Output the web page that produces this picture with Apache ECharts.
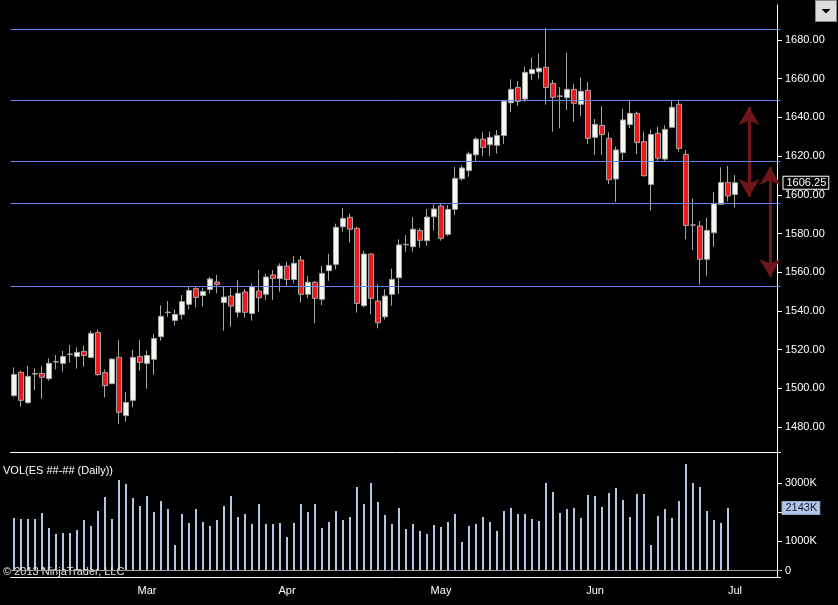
<!DOCTYPE html>
<html>
<head>
<meta charset="utf-8">
<title>ES daily</title>
<script src="https://cdn.jsdelivr.net/npm/echarts@6.0.0/dist/echarts.min.js"></script>
<style>
html,body{margin:0;padding:0;background:#000;}
#chart{width:838px;height:605px;}
</style>
</head>
<body>
<div id="chart"></div>
<script>
// session days on the chart, plus a few empty days on the right
var holidays = ['2013-02-18','2013-03-29','2013-05-27','2013-07-04'];
var firstDay = '2013-02-01';
var lastDay = '2013-07-10';
var monthNames = ['Jan','Feb','Mar','Apr','May','Jun','Jul','Aug','Sep','Oct','Nov','Dec'];

var opens = [1496.2,1508.3,1492.6,1507.4,1507.7,1505.0,1513.6,1512.9,1517.5,1516.4,1519.1,1516.0,1528.9,1508.1,1502.4,1516.0,1485.9,1493.8,1516.5,
  1512.9,1515.0,1526.7,1539.2,1535.1,1538.1,1543.4,1551.5,1548.0,1551.1,1554.9,1544.3,1547.7,1539.3,1549.8,1538.7,1550.3,1548.6,1558.6,1556.7,
  1563.2,1556.3,1566.3,1548.6,1554.8,1546.0,1560.8,1564.1,1583.5,1588.4,1582.7,1542.7,1569.4,1545.1,1537.0,1548.6,1557.2,1574.2,1573.2,1581.6,1576.3,1588.7,
  1594.2,1579.6,1592.5,1608.3,1612.5,1620.7,1628.8,1625.9,1625.6,1630.6,1647.6,1655.5,1649.5,1662.6,1663.6,1665.9,1657.6,1650.9,1650.2,1654.5,1646.8,1654.0,
  1629.7,1635.9,1629.2,1608.2,1621.8,1636.3,1642.1,1627.5,1605.4,1631.8,1618.5,1634.9,1646.8,1620.9,1584.4,1583.9,1566.7,1580.4,1595.1,1606.4,
  1600.2];
var closes = [1507.2,1493.8,1506.2,1507.6,1505.7,1512.9,1513.8,1516.5,1517.7,1518.6,1517.0,1528.4,1507.1,1501.4,1515.1,1487.6,1492.7,1516.0,1513.4,
  1517.0,1525.8,1537.2,1539.4,1538.2,1544.8,1550.6,1547.0,1550.0,1556.5,1553.7,1547.2,1542.5,1549.1,1539.3,1552.5,1546.8,1557.5,1556.7,1563.2,
  1556.3,1564.6,1548.6,1554.8,1546.5,1559.4,1563.6,1583.2,1587.8,1582.2,1543.9,1569.4,1546.5,1533.9,1547.7,1556.3,1574.1,1574.4,1582.2,1576.5,1588.5,1592.7,
  1577.5,1592.5,1608.5,1613.9,1621.1,1628.8,1624.5,1629.7,1630.7,1648.5,1654.5,1648.3,1663.3,1664.8,1665.4,1655.5,1650.4,1651.1,1654.5,1647.3,1653.5,1629.2,
  1636.4,1631.1,1607.8,1623.2,1638.7,1642.1,1627.0,1609.9,1631.2,1618.9,1633.8,1645.2,1624.0,1584.2,1584.4,1566.7,1581.6,1595.6,1606.4,1599.4,
  1606.25];
var lows = [1495.7,1490.5,1492.0,1499.1,1494.6,1503.9,1509.8,1508.6,1513.3,1510.2,1511.2,1515.5,1506.5,1495.3,1502.4,1481.6,1482.8,1490.2,1509.1,
  1499.8,1507.1,1524.6,1537.0,1532.5,1535.6,1540.8,1541.8,1542.2,1549.1,1549.1,1529.8,1531.9,1536.7,1536.7,1535.0,1539.3,1545.6,1545.6,1549.9,
  1552.5,1554.2,1544.3,1546.5,1533.6,1543.0,1555.6,1561.5,1581.0,1575.3,1539.1,1541.8,1538.2,1531.0,1535.6,1542.7,1548.7,1570.6,1570.6,1572.7,1573.7,1581.5,
  1576.3,1578.7,1589.6,1607.3,1609.4,1617.1,1620.1,1620.1,1621.4,1626.3,1642.8,1646.1,1648.1,1659.3,1659.9,1646.6,1632.6,1634.4,1643.8,1637.8,1640.7,1626.3,
  1620.6,1620.6,1605.6,1596.3,1618.0,1634.5,1621.1,1609.4,1591.8,1617.6,1617.6,1634.9,1622.3,1577.0,1571.5,1553.7,1558.2,1573.2,1595.1,1596.6,
  1593.4];
var highs = [1510.8,1509.1,1511.5,1510.3,1511.5,1515.5,1517.2,1519.3,1522.4,1521.2,1522.0,1529.6,1530.5,1509.8,1515.5,1525.0,1498.1,1519.8,1525.0,
  1519.5,1528.1,1542.9,1545.1,1540.8,1548.2,1552.5,1552.5,1552.0,1557.7,1558.6,1552.9,1551.7,1556.0,1551.3,1554.2,1561.1,1559.1,1561.1,1564.6,
  1565.4,1568.4,1568.4,1558.0,1555.5,1563.2,1569.4,1585.1,1593.2,1590.3,1583.5,1571.0,1569.8,1553.9,1551.3,1561.8,1577.0,1579.2,1588.5,1582.7,1592.7,1595.1,
  1595.6,1594.7,1614.4,1615.2,1622.3,1629.7,1632.3,1632.6,1633.5,1648.8,1659.7,1658.8,1666.2,1671.0,1673.1,1686.2,1659.3,1655.7,1673.5,1657.3,1660.7,1658.3,
  1639.2,1645.9,1632.3,1624.9,1644.4,1649.0,1643.0,1632.6,1633.8,1635.2,1635.9,1649.0,1649.0,1623.2,1598.2,1586.5,1588.2,1601.5,1614.2,1614.9,
  1610.2];
// volume in thousands (last session has no bar drawn)
var volumes = [1796,1762,1762,1762,1967,1455,1251,1285,1285,1387,1728,1524,2035,2513,1762,3093,2956,2479,2206,
  2547,2001,2376,2103,875,1933,1626,2103,1660,1524,1728,2206,2547,1831,1933,1592,2274,1592,1592,1626,
  1148,1626,2274,2001,2274,1455,1660,2035,1728,1831,2854,2274,2990,2342,1899,1592,2138,1421,1592,1353,1251,1558,
  1489,1660,1933,978,1524,1592,1831,1660,1353,2035,2138,1933,1933,1762,1694,2990,2683,1967,2103,2138,1796,2581,
  2547,2172,2649,2820,2410,1831,2615,2615,875,1865,2103,1796,2376,3638,2990,2854,2035,1728,1626,2143,
  null];

var priceTicks = [1480,1500,1520,1540,1560,1580,1600,1620,1640,1660,1680];
var volumeTicks = [0,1000,2000,3000];
// horizontal levels drawn by hand on the chart
var levels = [1685.44,1648.75,1617.22,1595.52,1552.63];
// the two red double arrows (day index, top tip price, bottom tip price)
var arrowDay = [105,108];
var arrowTop = [1645.4,1614.4];
var arrowBottom = [1598.9,1557.5];

function tradingDays(from, to) {
  var out = [];
  var d = new Date(from + 'T00:00:00Z');
  var end = new Date(to + 'T00:00:00Z');
  while (d <= end) {
    var s = d.toISOString().slice(0, 10);
    var wd = d.getUTCDay();
    if (wd != 0 && wd != 6 && holidays.indexOf(s) < 0) out.push(s);
    d.setUTCDate(d.getUTCDate() + 1);
  }
  return out;
}

var dates = tradingDays(firstDay, lastDay);

function monthStart(idx) {
  if (idx == 0) return false;
  return dates[idx].slice(5, 7) != dates[idx - 1].slice(5, 7);
}

var candles = [];
for (var i = 0; i < opens.length; i++) {
  candles.push([opens[i], closes[i], lows[i], highs[i]]);
}
var lastClose = closes[closes.length - 1];
var lastVol = null;
for (var j = volumes.length - 1; j >= 0; j--) {
  if (volumes[j] != null) { lastVol = volumes[j]; break; }
}

var font = 'Liberation Sans, Arial, sans-serif';
var hidden = { color: 'rgba(0,0,0,0)', width: 0 };
var chart = echarts.init(document.getElementById('chart'));

var option = {
  backgroundColor: '#000',
  animation: false,
  textStyle: { fontFamily: font },
  title: [{
    text: 'VOL(ES ##-## (Daily))',
    left: 3, top: 465, padding: 0,
    textStyle: { color: '#fff', fontSize: 11, fontWeight: 'normal', fontFamily: font }
  }, {
    text: '\u00a9 2013 NinjaTrader, LLC',
    left: 3, top: 566, padding: 0,
    textStyle: { color: '#e6e6e6', fontSize: 11, fontWeight: 'normal', fontFamily: font }
  }],
  grid: [
    { left: 10.5, right: 57.5, top: 5, height: 447 },
    { left: 10.5, right: 57.5, top: 452, height: 125.7 }
  ],
  xAxis: [{
    type: 'category', gridIndex: 0, data: dates, boundaryGap: true,
    axisLine: { lineStyle: { color: '#fff', width: 1 } },
    axisTick: { show: false }, axisLabel: { show: false }, splitLine: { show: false }
  }, {
    type: 'category', gridIndex: 1, data: dates, boundaryGap: true, position: 'bottom',
    axisLine: { onZero: false, lineStyle: { color: '#fff', width: 1 } },
    axisTick: {
      alignWithLabel: true, length: 6,
      interval: function (idx) { return monthStart(idx); },
      lineStyle: { color: '#fff' }
    },
    axisLabel: {
      interval: function (idx) { return monthStart(idx); },
      formatter: function (v) { return monthNames[parseInt(v.slice(5, 7), 10) - 1]; },
      color: '#fff', fontSize: 11, margin: 8, fontFamily: font
    },
    splitLine: { show: false }
  }],
  yAxis: [{
    type: 'value', gridIndex: 0, position: 'right', offset: -3.5,
    min: 1467.1, max: 1698.1,
    axisLine: { show: true, lineStyle: { color: '#fff', width: 1 } },
    axisTick: { show: true, length: 5, customValues: priceTicks, lineStyle: { color: '#fff' } },
    axisLabel: {
      customValues: priceTicks, margin: 8, color: '#fff', fontSize: 11, fontFamily: font,
      formatter: function (v) { return v.toFixed(2); }
    },
    splitLine: { show: false }
  }, {
    type: 'value', gridIndex: 1, position: 'right', offset: -3.5,
    min: -239, max: 4051,
    axisLine: { show: true, lineStyle: { color: '#fff', width: 1 } },
    axisTick: { show: true, length: 5, customValues: volumeTicks, lineStyle: { color: '#fff' } },
    axisLabel: {
      customValues: volumeTicks, margin: 8, color: '#fff', fontSize: 11, fontFamily: font,
      formatter: function (v) { return v == 0 ? '0' : v + 'K'; }
    },
    splitLine: { show: false }
  }],
  graphic: [{
    type: 'rect', shape: { x: 815.5, y: 0.5, width: 21, height: 21 },
    style: { fill: '#dcdcdc', stroke: '#8a8a8a', lineWidth: 1 }
  }, {
    type: 'polygon', shape: { points: [[821.5, 9], [830.5, 9], [826, 13.5]] },
    style: { fill: '#000' }
  }],
  series: [{
    name: 'ES', type: 'candlestick', xAxisIndex: 0, yAxisIndex: 0,
    data: candles, barWidth: 5, clip: false,
    itemStyle: {
      color: '#f7f7ee', color0: '#ee1a1a',
      borderColor: '#a6a6a6', borderColor0: '#a6a6a6', borderWidth: 1
    },
    markLine: {
      silent: true, symbol: 'none', z: 10,
      lineStyle: { color: '#5f88e4', width: 1, type: 'solid' },
      label: { show: false },
      data: levels.map(function (v) { return { yAxis: v }; }).concat([{
        yAxis: lastClose,
        lineStyle: hidden,
        label: {
          show: true, opacity: 1, position: 'end', distance: 3,
          formatter: lastClose.toFixed(2),
          color: '#fff', backgroundColor: '#000', borderColor: '#fff', borderWidth: 1,
          padding: [1, 2, 0, 3], fontSize: 11, fontFamily: font
        }
      }])
    }
  }, {
    name: 'arrows', type: 'line', xAxisIndex: 0, yAxisIndex: 0, data: [], silent: true,
    markLine: {
      silent: true, z: 6,
      symbol: ['arrow', 'arrow'], symbolSize: [16, 18],
      lineStyle: { color: '#6e161a', width: 3, type: 'solid' },
      label: { show: false },
      data: arrowDay.map(function (d, k) {
        return [{ coord: [dates[d], arrowTop[k]] }, { coord: [dates[d], arrowBottom[k]] }];
      })
    }
  }, {
    name: 'VOL', type: 'bar', xAxisIndex: 1, yAxisIndex: 1,
    data: volumes, barWidth: 2, clip: false,
    itemStyle: { color: '#b4c6e2' },
    markLine: {
      silent: true, symbol: 'none', z: 10,
      label: { show: false },
      data: [{
        yAxis: 0, lineStyle: { color: '#a0a0a0', width: 1, type: 'solid' }
      }, {
        yAxis: lastVol,
        lineStyle: hidden,
        label: {
          show: true, opacity: 1, position: 'end', distance: 2,
          formatter: lastVol + 'K',
          color: '#0c1a3a', backgroundColor: '#b4c6e2', borderColor: '#8ea4c8', borderWidth: 1,
          padding: [1, 2, 0, 3], fontSize: 11, fontFamily: font
        }
      }]
    }
  }]
};

chart.setOption(option);
</script>
</body>
</html>
